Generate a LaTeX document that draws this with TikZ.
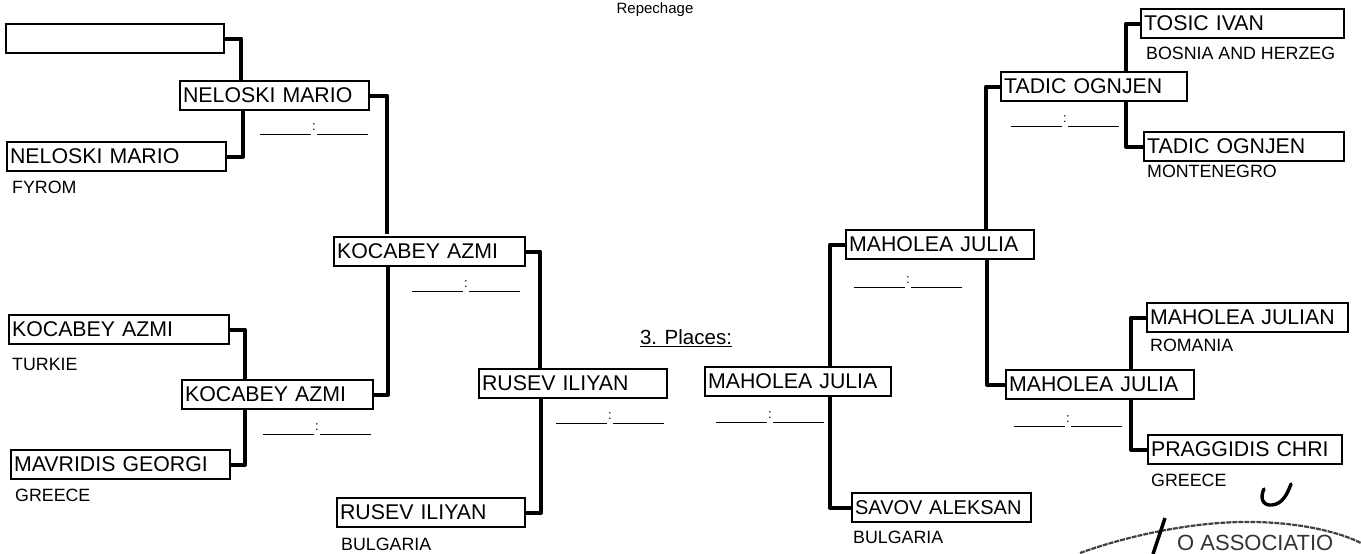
\documentclass[tikz,border=0pt]{standalone}
\usepackage{fontspec}
\setmainfont{Liberation Sans}
\begin{document}
\begin{tikzpicture}[x=1pt,y=-1pt,
  box/.style={draw=black,line width=2.2pt,anchor=north west,align=left,inner xsep=3pt,inner ysep=0pt,minimum height=29pt,font=\fontsize{21.3}{23}\selectfont,text height=15pt,text depth=1pt},
  boxw/.style={text width=#1 pt - 6pt - 2.2pt},
  land/.style={anchor=west,inner sep=0pt,font=\fontsize{17.8}{19}\selectfont,text=black},
  captext/.style={anchor=center,inner sep=0pt,font=\fontsize{15}{17}\selectfont},
  link/.style={draw=black,line width=4.2pt,line join=round},
  colon/.style={inner sep=0pt,font=\fontsize{13}{14}\selectfont},
  scoreline/.style={draw=black,line width=1.2pt}]
\useasboundingbox (0,0) rectangle (1361,554);
% junction points on the box edges
\coordinate (j1a) at (241,80);  \coordinate (j1b) at (243,110);
\coordinate (j2a) at (387,234); \coordinate (j2b) at (388,267);
\coordinate (j3a) at (540,368); \coordinate (j3b) at (541,399);
\coordinate (j4a) at (1126,71); \coordinate (j4b) at (1126,100);
\coordinate (j5a) at (986,229); \coordinate (j5b) at (987,258);
\coordinate (j6a) at (830,366); \coordinate (j6b) at (830,396);
\coordinate (j7a) at (1131,369);\coordinate (j7b) at (1131,398);
\coordinate (j8a) at (245,379); \coordinate (j8b) at (245,409);
\node[captext] (rep) at (655,10) {Repechage};
\node[captext,font=\fontsize{20.5}{22}\selectfont] (pl) at (686,338) {\underline{3. Places:}};
% boxes
\node[box,boxw=220] (e0) at (5,23) {\strut};
\node[box,boxw=191] (m1) at (179,80) {NELOSKI MARIO};
\node[box,boxw=221] (a1) at (6,141) {NELOSKI MARIO};
\node[box,boxw=193] (m2) at (333,236) {KOCABEY AZMI};
\node[box,boxw=222] (a2) at (8,314) {KOCABEY AZMI};
\node[box,boxw=193] (m3) at (181,379) {KOCABEY AZMI};
\node[box,boxw=221] (a3) at (10,449) {MAVRIDIS GEORGI};
\node[box,boxw=190] (m4) at (478,368) {RUSEV ILIYAN};
\node[box,boxw=190] (a4) at (336,497) {RUSEV ILIYAN};
\node[box,boxw=188] (m5) at (704,366) {MAHOLEA JULIA};
\node[box,boxw=181,font=\fontsize{20}{22}\selectfont] (a5) at (851,492) {\mbox{SAVOV ALEKSAN}};
\node[box,boxw=190] (m6) at (845,229) {MAHOLEA JULIA};
\node[box,boxw=188] (m7) at (1000,71) {TADIC OGNJEN};
\node[box,boxw=205] (a6) at (1140,8) {TOSIC IVAN};
\node[box,boxw=202] (a7) at (1143,131) {TADIC OGNJEN};
\node[box,boxw=203] (a8) at (1146,302) {MAHOLEA JULIAN};
\node[box,boxw=190] (m8) at (1005,369) {MAHOLEA JULIA};
\node[box,boxw=196] (a9) at (1147,434) {PRAGGIDIS CHRI};
% connectors
\path[link] (e0.east) -| (j1a);
\path[link] (a1.east) -| (j1b);
\path[link] (m1.east) -| (j2a);
\path[link] (m3.east) -| (j2b);
\path[link] (a2.east) -| (j8a);
\path[link] (a3.east) -| (j8b);
\path[link] (m2.east) -| (j3a);
\path[link] (a4.east) -| (j3b);
\path[link] (a6.west) -| (j4a);
\path[link] (a7.west) -| (j4b);
\path[link] (m7.west) -| (j5a);
\path[link] (m8.west) -| (j5b);
\path[link] (m6.west) -| (j6a);
\path[link] (a5.west) -| (j6b);
\path[link] (a8.west) -| (j7a);
\path[link] (a9.west) -| (j7b);
% countries
\node[land] (c1) at (12,187) {FYROM};
\node[land] (c2) at (12,364) {TURKIE};
\node[land] (c3) at (15,495) {GREECE};
\node[land] (c4) at (341,544) {BULGARIA};
\node[land] (c5) at (853,537) {BULGARIA};
\node[land] (c6) at (1146,53) {BOSNIA AND HERZEG};
\node[land] (c7) at (1147,171) {MONTENEGRO};
\node[land] (c8) at (1150,345) {ROMANIA};
\node[land] (c9) at (1151,480) {GREECE};
% scores
\foreach \n/\cx/\cy in {s1/314/127,s2/466/284,s3/317/427,s4/610/416,s5/770/415,s6/908/280,s7/1065/119,s8/1068/419}{
  \node[colon] (\n) at (\cx,\cy) {:};
  \draw[scoreline] ([xshift=-54pt,yshift=-4pt]\n.south) -- ([xshift=-3pt,yshift=-4pt]\n.south);
  \draw[scoreline] ([xshift=3pt,yshift=-4pt]\n.south) -- ([xshift=54pt,yshift=-4pt]\n.south);
}
% stamp and pen marks
\draw[line width=2.2pt,black!75,dash pattern=on 5pt off 1pt] (1080,553) .. controls (1130,535) and (1190,523) .. (1240,522) .. controls (1290,521) and (1335,530) .. (1361,543);
\node[inner sep=0pt,anchor=base west,font=\fontsize{22}{24}\selectfont,text=black!80] (stamp) at (1177,550) {O ASSOCIATIO};
\draw[line width=3.5pt,black] (1165,518) -- (1153,554);
\draw[line width=3.4pt,black,line cap=round] (1264,489) .. controls (1260,497) and (1262,506) .. (1272,505) .. controls (1282,504) and (1287,495) .. (1291,484);
\end{tikzpicture}
\end{document}
